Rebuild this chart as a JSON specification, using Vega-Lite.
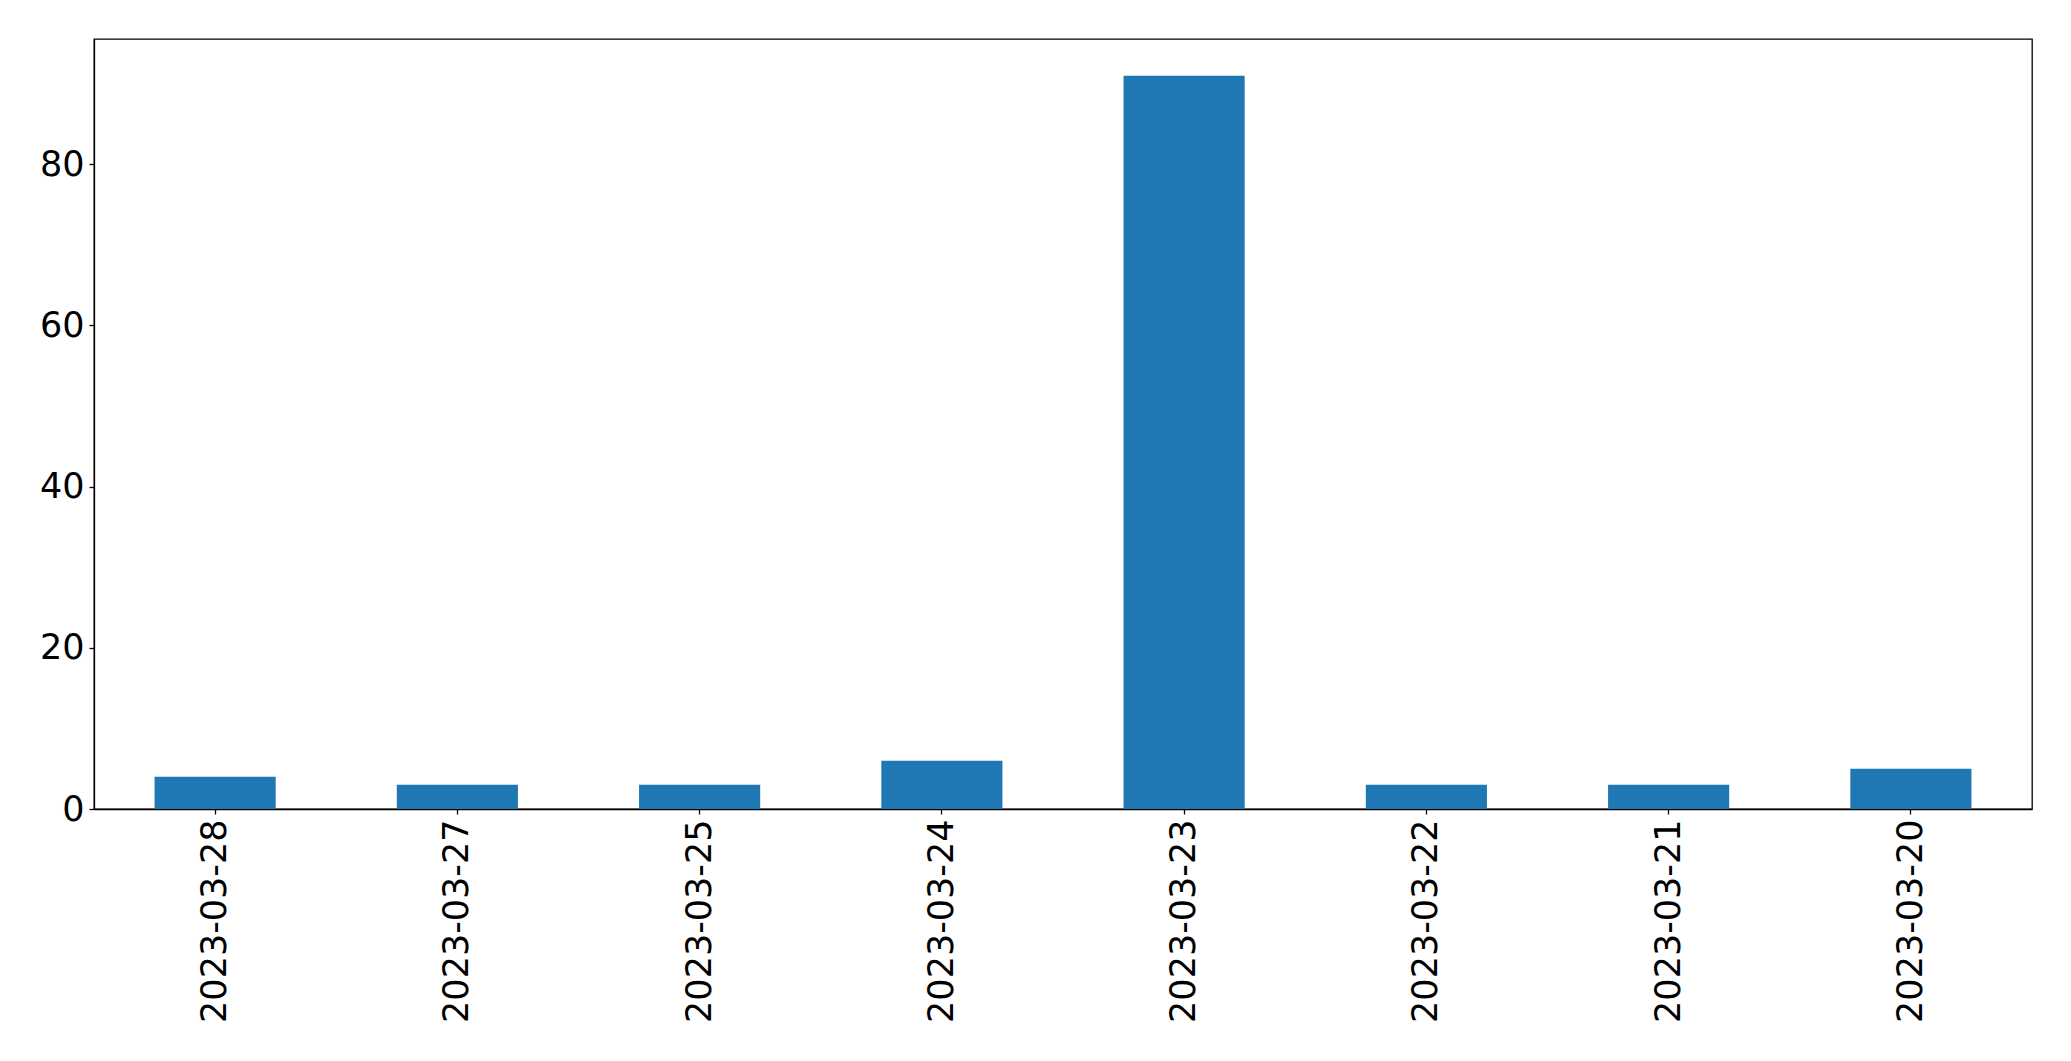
{
  "$schema": "https://vega.github.io/schema/vega-lite/v6.json",
  "autosize": "none",
  "width": 1938,
  "height": 770,
  "padding": {"left": 94, "top": 39, "right": 39, "bottom": 252},
  "background": "white",
  "config": {
    "view": {"stroke": "black", "strokeWidth": 1.3},
    "font": "DejaVu Sans",
    "axis": {
      "grid": false,
      "domainColor": "black",
      "domainWidth": 1.3,
      "tickColor": "black",
      "tickWidth": 1.3,
      "tickSize": 5,
      "labelPadding": 5,
      "labelFont": "DejaVu Sans",
      "labelFontSize": 35,
      "labelColor": "black",
      "labelLimit": 0,
      "title": null
    }
  },
  "data": {
    "values": [
      {"date": "2023-03-28", "count": 4},
      {"date": "2023-03-27", "count": 3},
      {"date": "2023-03-25", "count": 3},
      {"date": "2023-03-24", "count": 6},
      {"date": "2023-03-23", "count": 91},
      {"date": "2023-03-22", "count": 3},
      {"date": "2023-03-21", "count": 3},
      {"date": "2023-03-20", "count": 5}
    ]
  },
  "mark": {"type": "bar", "color": "#1f77b4"},
  "encoding": {
    "x": {
      "field": "date",
      "type": "nominal",
      "sort": null,
      "scale": {"paddingInner": 0.5, "paddingOuter": 0.25},
      "axis": {"labelAngle": -90, "title": null, "labelLimit": 0}
    },
    "y": {
      "field": "count",
      "type": "quantitative",
      "scale": {"domain": [0, 95.55], "nice": false},
      "axis": {"values": [0, 20, 40, 60, 80], "title": null}
    }
  }
}
